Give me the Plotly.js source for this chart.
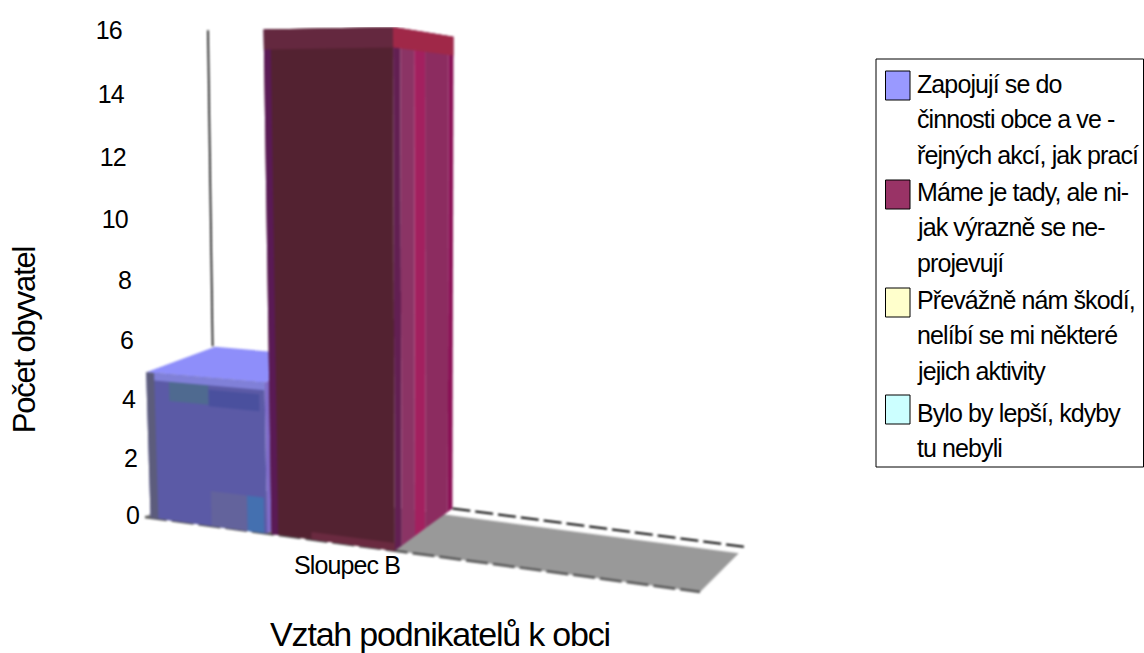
<!DOCTYPE html>
<html><head><meta charset="utf-8">
<script src="https://cdn.plot.ly/plotly-3.0.1.min.js"></script>
<style>html,body{margin:0;background:#fff}#c{width:1144px;height:653px}.scatterlayer{filter:blur(.8px)}
.annotation text{letter-spacing:-.9px}.xtitle,.ytitle{letter-spacing:-1.2px}</style>
</head><body><div id="c"></div>
<script>
const categories = ["Sloupec B"];
const seriesNames = ["Zapojují se do činnosti obce a veřejných akcí, jak prací","Máme je tady, ale nijak výrazně se neprojevují","Převážně nám škodí, nelíbí se mi některé jejich aktivity","Bylo by lepší, kdyby tu nebyli"];
const seriesValues = [5,16,0,0];
const legendLines = [["Zapojují se do","činnosti obce a ve -","řejných akcí, jak prací"],["Máme je tady, ale ni-","jak výrazně se ne-","projevují"],["Převážně nám škodí,","nelíbí se mi některé","jejich aktivity"],["Bylo by lepší, kdyby","tu nebyli"]];
const swatchColors = ["#9999ff","#993366","#ffffcc","#ccffff"];
const tickValues = [0,2,4,6,8,10,12,14,16];
const yTitle = "Počet obyvatel";
const xTitle = "Vztah podnikatelů k obci";

const PX_PER_UNIT = 30.3, ZERO_PY = 515;
const toV = py => (ZERO_PY - py) / PX_PER_UNIT;
const curve = v => v - 0.0038 * v * (16 - v);
const floorPt = (u, d) => [145 + 555*u + d*(68 - 23*u), 517 + 75*u + d*(-40 - 5*u)];
function project(u, d, v) {
  const [x, y] = floorPt(u, d);
  const h = curve(v) * PX_PER_UNIT * (1 + .18*u) * (1 - .1*d);
  return [x + (x - 430) * .05 * (v / 16), toV(Math.max(y - h, 27))];
}
const traces = [];
function poly(pts, color, name) {
  traces.push({type:"scatter", mode:"lines", name:name||"", x:pts.map(p=>p[0]), y:pts.map(p=>p[1]),
    fill:"toself", fillcolor:color, line:{width:0,color:color}, hoverinfo:"skip", showlegend:false});
}
const frontFace = (u0,u1,v0,v1,c,n) => poly([project(u0,0,v0),project(u1,0,v0),project(u1,0,v1),project(u0,0,v1),project(u0,0,v0)],c,n);
const sideFace = (u,d0,d1,v0,v1,c,n) => poly([project(u,d0,v0),project(u,d1,v0),project(u,d1,v1),project(u,d0,v1),project(u,d0,v0)],c,n);
const topFace = (u0,u1,d0,d1,v,c,n) => poly([project(u0,d0,v),project(u1,d0,v),project(u1,d1,v),project(u0,d1,v),project(u0,d0,v)],c,n);
function edge(u0,d0,u1,d1,color,width,dash){
  const a=project(u0,d0,0), b=project(u1,d1,0);
  traces.push({type:"scatter",mode:"lines",x:[a[0],b[0]],y:[a[1],b[1]],line:{color,width,dash},hoverinfo:"skip",showlegend:false});
}
// floor
topFace(0,1,0,.86,0,"#999999","Floor");
edge(.45,.94,1,.94,"#ffffff",3,"16px,6px");
edge(.45,1,1,1,"#000000",2,"18px,5px");
edge(0,0,1,0,"#555555",2.5,"22px,5px");
edge(.02,.12,.22,.12,"#555555",2.5,"14px,8px");
// wall corner line
const wallBase = floorPt(0,1), wallBottom = project(0,1,seriesValues[0]);
traces.push({type:"scatter",mode:"lines",x:[wallBase[0]-5,wallBottom[0]+3],y:[curve(16),wallBottom[1]],line:{color:"#000",width:1.6},hoverinfo:"skip",showlegend:false});
// series 1
const b = seriesValues[0], m = seriesValues[1];
topFace(.01,.22,0,1,b,"#8e8efa",seriesNames[0]);
sideFace(.22,0,1,0,b,"#7f6bc8");
frontFace(.01,.22,0,b,"#5b5aa6");
frontFace(.01,.024,0,b,"#5c5c7c");
frontFace(.12,.185,0,1.2,"#63639c");
frontFace(.185,.215,0,1.2,"#4470b0");
frontFace(.05,.12,4.1,4.75,"#4f6a90");
frontFace(.12,.21,4.05,4.6,"#4a509e");
frontFace(.024,.22,b-.25,b,"#8080d8");
// series 2
topFace(.228,.45,0,1,m,"#6a2a42",seriesNames[1]);
const sideBands=[[0,.12,"#621f52"],[.12,.35,"#8b3465"],[.35,.53,"#a3205f"],[.53,.92,"#8c2c60"],[.92,1,"#8a1055"]];
sideBands.forEach(s=>sideFace(.45,s[0],s[1],0,m,s[2]));
sideFace(.45,0,1,15.4,m,"#a02848");
frontFace(.228,.45,0,m,"#532231");
frontFace(.228,.24,0,m,"#5a1a55");
frontFace(.228,.45,15.4,m,"#64283f");
frontFace(.3,.45,0,.25,"#6a2a40");
// series 3 and 4: zero height
frontFace(.46,.68,0,seriesValues[2],swatchColors[2],seriesNames[2]);
frontFace(.69,.9,0,seriesValues[3],swatchColors[3],seriesNames[3]);

const FONT = "Liberation Sans, Arial, sans-serif";
const L=60,R=324,T=27,B=0,W=1144,H=653;
const px = x => (x-L)/(W-L-R), py = y => (H-B-y)/(H-T-B);
const annotations = [];
tickValues.forEach(v=>annotations.push({xref:"x",yref:"y",x:141-1.06*v,y:curve(v),text:String(v),showarrow:false,xanchor:"right",align:"right",yanchor:"middle",font:{family:FONT,size:25,color:"#000"}}));
annotations.push({xref:"x",yref:"y",x:347,y:toV(565),text:categories[0],showarrow:false,xanchor:"center",yanchor:"middle",font:{family:FONT,size:25,color:"#000"}});
const shapes=[{type:"rect",xref:"paper",yref:"paper",x0:px(876),x1:px(1143.5),y0:py(59),y1:py(467),line:{color:"#000",width:1},fillcolor:"#fff",layer:"below"}];
const swatchTops=[71,180,288,395], lineTops=[84,192,300,413];
legendLines.forEach((ls,i)=>{
  shapes.push({type:"rect",xref:"paper",yref:"paper",x0:px(885.5),x1:px(910),y0:py(swatchTops[i]),y1:py(swatchTops[i]+29),line:{color:"#000",width:1},fillcolor:swatchColors[i]});
  ls.forEach((t,j)=>annotations.push({xref:"paper",yref:"paper",x:px(915),y:py(lineTops[i]+j*35.3),text:t,showarrow:false,xanchor:"left",align:"left",yanchor:"middle",font:{family:FONT,size:25,color:"#000"}}));
});
const layout={width:W,height:H,margin:{l:L,r:R,t:T,b:B},paper_bgcolor:"#fff",plot_bgcolor:"#fff",showlegend:false,
  font:{family:FONT,color:"#000"},
  xaxis:{range:[L,W-R],showgrid:false,zeroline:false,showline:false,ticks:"",showticklabels:false,anchor:"free",position:.07,
    title:{text:xTitle,font:{family:FONT,size:34},standoff:14},automargin:false},
  yaxis:{range:[toV(H-B),toV(T)],showgrid:false,zeroline:false,showline:false,ticks:"",showticklabels:false,
    title:{text:yTitle,font:{family:FONT,size:31},standoff:14},automargin:false},
  shapes,annotations};
Plotly.newPlot("c",traces,layout,{staticPlot:true,displayModeBar:false});
</script></body></html>
